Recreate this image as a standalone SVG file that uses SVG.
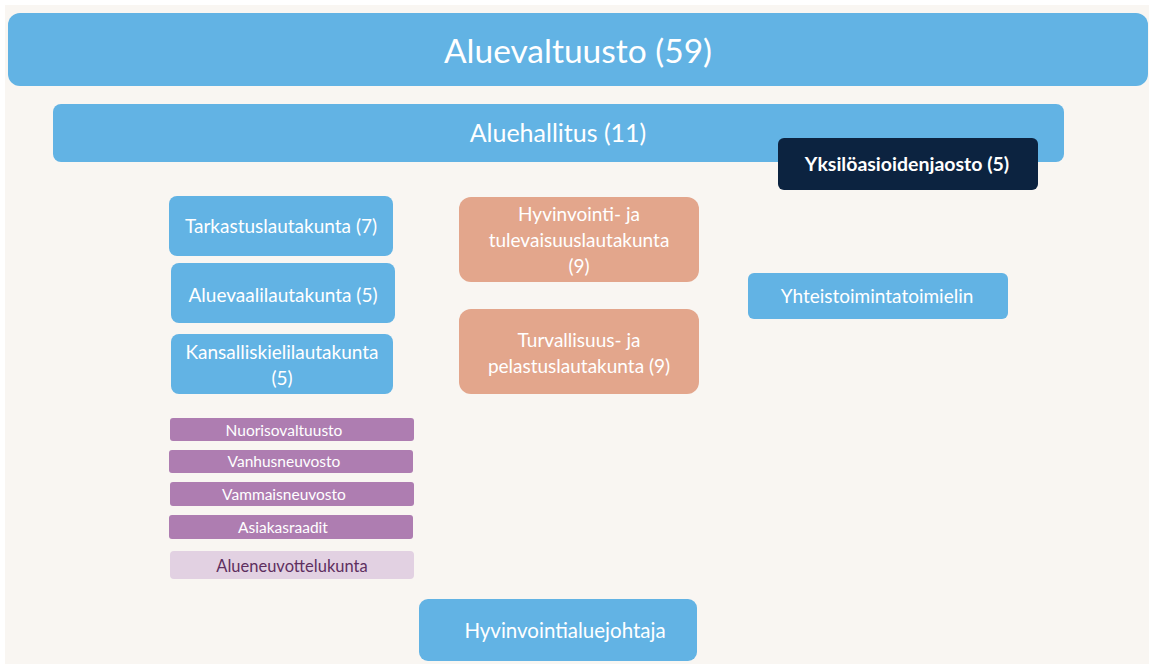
<svg xmlns="http://www.w3.org/2000/svg" width="1149" height="664" viewBox="0 0 1149 664">
<style>
text{font-family:Lato,"Open Sans","Liberation Sans",sans-serif;fill:#fff;text-anchor:middle}
.blue{fill:#62b3e4}
.sal{fill:#e3a68c}
.pur{fill:#ae7db1}
.lpur{fill:#e2d1e2}
.navy{fill:#0c2340}
.t18{font-size:19px}
.t14{font-size:15.5px}
</style>
<rect x="0" y="0" width="1149" height="664" fill="#ffffff"/>
<rect x="5" y="5" width="1144" height="659" fill="#f9f6f2"/>
<g id="aluevaltuusto"><rect class="blue" x="8" y="13" width="1140" height="73" rx="12"/><text x="578" y="63" font-size="33.5">Aluevaltuusto (59)</text></g>
<g id="aluehallitus"><rect class="blue" x="53" y="104" width="1011" height="58" rx="8"/><text x="558" y="142" font-size="25">Aluehallitus (11)</text></g>
<g id="yksiloasioidenjaosto"><rect class="navy" x="778" y="138" width="260" height="52" rx="6"/><text x="907" y="171" font-size="19.5" font-weight="bold">Yksilöasioidenjaosto (5)</text></g>
<g id="yhteistoimintatoimielin"><rect class="blue" x="748" y="273" width="260" height="46" rx="6"/><text x="877" y="303" class="t18">Yhteistoimintatoimielin</text></g>
<g id="tarkastuslautakunta"><rect class="blue" x="169" y="196" width="224" height="60" rx="8"/><text x="281" y="233" class="t18">Tarkastuslautakunta (7)</text></g>
<g id="aluevaalilautakunta"><rect class="blue" x="171" y="263" width="224" height="60" rx="8"/><text x="283" y="302" class="t18">Aluevaalilautakunta (5)</text></g>
<g id="kansalliskielilautakunta"><rect class="blue" x="171" y="334" width="222" height="60" rx="8"/><text x="282" y="359" class="t18">Kansalliskielilautakunta</text><text x="282" y="385" class="t18">(5)</text></g>
<g id="hyvinvointilautakunta"><rect class="sal" x="459" y="197" width="240" height="85" rx="12"/><text x="579" y="221" class="t18">Hyvinvointi- ja</text><text x="579" y="247" class="t18">tulevaisuuslautakunta</text><text x="579" y="273" class="t18">(9)</text></g>
<g id="turvallisuuslautakunta"><rect class="sal" x="459" y="309" width="240" height="85" rx="12"/><text x="579" y="347" class="t18">Turvallisuus- ja</text><text x="579" y="373" class="t18">pelastuslautakunta (9)</text></g>
<g id="nuorisovaltuusto"><rect class="pur" x="170" y="418" width="244" height="23" rx="3"/><text x="284" y="436" class="t14">Nuorisovaltuusto</text></g>
<g id="vanhusneuvosto"><rect class="pur" x="169" y="450" width="244" height="23" rx="3"/><text x="284" y="467" class="t14">Vanhusneuvosto</text></g>
<g id="vammaisneuvosto"><rect class="pur" x="170" y="482" width="244" height="24" rx="3"/><text x="284" y="500" class="t14">Vammaisneuvosto</text></g>
<g id="asiakasraadit"><rect class="pur" x="169" y="515" width="244" height="24" rx="3"/><text x="283" y="533" class="t14">Asiakasraadit</text></g>
<g id="alueneuvottelukunta"><rect class="lpur" x="170" y="551" width="244" height="28" rx="4"/><text x="292" y="572" font-size="16.5" style="fill:#5e2f5f">Alueneuvottelukunta</text></g>
<g id="hyvinvointialuejohtaja"><rect class="blue" x="419" y="599" width="278" height="62" rx="9"/><text x="565" y="638" font-size="20.5">Hyvinvointialuejohtaja</text></g>
<g id="connectors"></g>
</svg>
